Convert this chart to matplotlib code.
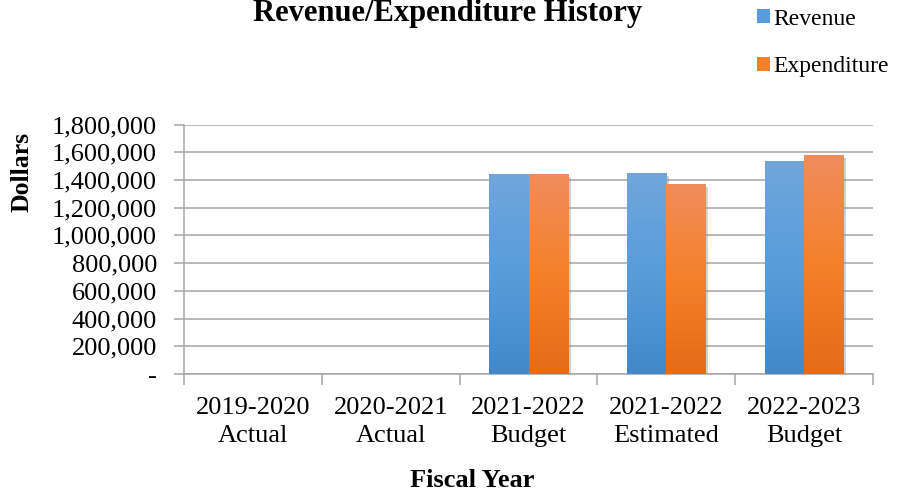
import numpy as np
import matplotlib
matplotlib.use("Agg")
import matplotlib.pyplot as plt
from matplotlib.patches import Patch
from matplotlib.ticker import FuncFormatter, MultipleLocator, FixedLocator
from matplotlib.transforms import blended_transform_factory
import matplotlib.patheffects as pe

plt.rcParams['font.family'] = ['Liberation Serif', 'DejaVu Serif']

# Fiscal years and amounts in dollars (no figures reported for the first two years)
years = ['2019-2020\nActual', '2020-2021\nActual', '2021-2022\nBudget',
         '2021-2022\nEstimated', '2022-2023\nBudget']
revenue = [0, 0, 1440000, 1448000, 1533000]
expenditure = [0, 0, 1440000, 1367000, 1578000]

blue_stops = [(112, 166, 220), (88, 156, 219), (66, 136, 201)]
orange_stops = [(240, 141, 92), (245, 128, 42), (228, 107, 23)]


def gradient(stops, n=256):
    stops = np.array(stops) / 255.0
    t = np.linspace(0, 1, n)
    pos = np.linspace(0, 1, len(stops))
    cols = np.stack([np.interp(t, pos, stops[:, k]) for k in range(3)], axis=1)
    return cols[:, None, :]


def gradient_bars(ax, x, heights, width, stops):
    img = gradient(stops)
    for xi, h in zip(x, heights):
        if not h:
            continue
        bar = ax.bar(xi, h, width, color=tuple(np.array(stops[1]) / 255), zorder=3)[0]
        bar.set_path_effects([pe.SimplePatchShadow(offset=(2, -2), shadow_rgbFace='#7f7f7f', alpha=0.35),
                              pe.Normal()])
        ax.imshow(img, extent=[xi - width / 2, xi + width / 2, 0, h], aspect='auto',
                  origin='upper', zorder=4, interpolation='bilinear')


fig = plt.figure(figsize=(8.97, 4.95), dpi=100)
ax_h = (374 - 124.5) / 495
ax = fig.add_axes([184 / 897, 1 - 374 / 495, (873 - 184) / 897, ax_h])

x = np.arange(len(years))
w = 1 / 3.5
gradient_bars(ax, x - w / 2, revenue, w, blue_stops)
gradient_bars(ax, x + w / 2, expenditure, w, orange_stops)

ax.set_xlim(-0.5, len(years) - 0.5)
ax.set_ylim(0, 1800000)
ax.yaxis.set_major_locator(MultipleLocator(200000))
ax.yaxis.set_major_formatter(FuncFormatter(lambda v, p: '-' if v == 0 else f'{v:,.0f}'))
ax.grid(axis='y', color='#a6a6a6', linewidth=1.1, zorder=0)
ax.set_axisbelow(True)

# category separators as ticks; the two-line category names are placed below
ax.xaxis.set_major_locator(FixedLocator(np.arange(len(years) + 1) - 0.5))
ax.xaxis.set_major_formatter(FuncFormatter(lambda v, p: ''))
ax.tick_params(axis='x', which='major', length=8, color='#a6a6a6', width=1.1)
ax.tick_params(axis='y', length=7, color='#a6a6a6', width=1.1, pad=12.5, labelsize=19)

trans = blended_transform_factory(ax.transData, ax.transAxes)
for xi, name in zip(x, years):
    ax.text(xi, -22.5 / 495 / ax_h, name, transform=trans, ha='center', va='top',
            fontsize=19, linespacing=1.38)

for side in ['top', 'right']:
    ax.spines[side].set_visible(False)
for side in ['left', 'bottom']:
    ax.spines[side].set_color('#a6a6a6')
    ax.spines[side].set_linewidth(1.1)

fig.text(447 / 897, 1 - 21 / 495, 'Revenue/Expenditure History', ha='center', va='baseline',
         fontsize=22, fontweight='bold')
fig.text(22 / 897, 1 - 172 / 495, 'Dollars', rotation=90, ha='center', va='center',
         fontsize=18.5, fontweight='bold')
fig.text(472 / 897, 1 - 487 / 495, 'Fiscal Year', ha='center', va='baseline',
         fontsize=19, fontweight='bold')

handles = [Patch(facecolor=tuple(np.array(blue_stops[1]) / 255)),
           Patch(facecolor=tuple(np.array(orange_stops[1]) / 255))]
fig.legend(handles, ['Revenue', 'Expenditure'], loc='upper left',
           bbox_to_anchor=(752 / 897, 1 - 4 / 495), frameon=False, fontsize=17,
           handlelength=0.55, handleheight=0.55, handletextpad=0.17,
           labelspacing=1.12, borderpad=0.2, borderaxespad=0)

fig.savefig('out.png', dpi=100)
